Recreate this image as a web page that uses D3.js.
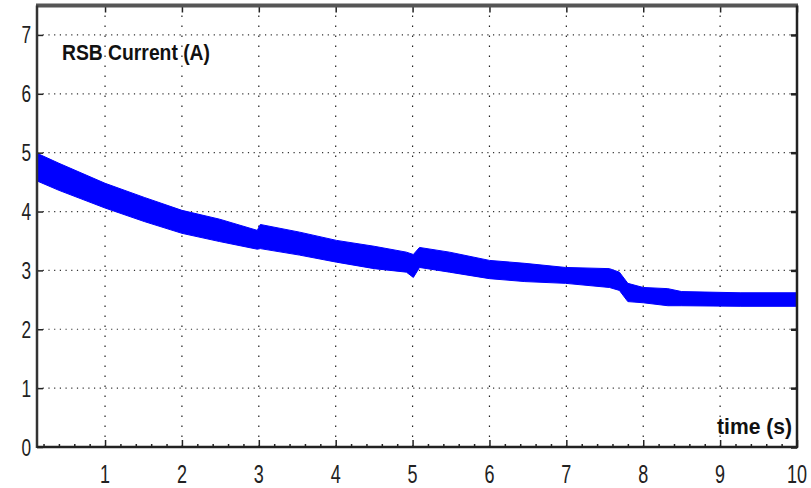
<!DOCTYPE html>
<html>
<head>
<meta charset="utf-8">
<script src="https://cdn.jsdelivr.net/npm/d3@7"></script>
<style>
  html, body { margin: 0; padding: 0; background: #fff; }
  svg { display: block; }
</style>
</head>
<body>
<svg id="chart" width="811" height="488"></svg>
<script>
// ---- data ----
const xTickValues = [1, 2, 3, 4, 5, 6, 7, 8, 9, 10];
const xTickLabels = ["1", "2", "3", "4", "5", "6", "7", "8", "9", "10"];
const yTickValues = [0, 1, 2, 3, 4, 5, 6, 7];
const yTickLabels = ["0", "1", "2", "3", "4", "5", "6", "7"];
const bandTime  = [0.115, 0.40, 1.00, 1.51, 2.00, 2.49, 2.98, 3.02, 3.53, 4.01, 4.50, 4.92, 5.01, 5.09, 5.48, 6.00, 6.46, 6.99, 7.56, 7.69, 7.80, 8.00, 8.32, 8.50, 9.26, 10.0];
const bandUpper = [4.99, 4.82, 4.48, 4.24, 4.02, 3.87, 3.68, 3.78, 3.65, 3.51, 3.41, 3.31, 3.27, 3.39, 3.31, 3.17, 3.12, 3.05, 3.03, 2.97, 2.78, 2.71, 2.69, 2.64, 2.62, 2.62];
const bandLower = [4.52, 4.36, 4.06, 3.83, 3.63, 3.49, 3.36, 3.37, 3.26, 3.14, 3.03, 2.97, 2.88, 3.05, 2.97, 2.86, 2.81, 2.78, 2.71, 2.66, 2.47, 2.45, 2.40, 2.40, 2.39, 2.39];
const yTitle = "RSB Current (A)";
const xTitle = "time (s)";

(function () {
// ---- layout ----
const mLeft = 37, mRight = 797, mTop = 5.5, mBottom = 447;
const svg = d3.select("#chart");
svg.append("rect").attr("width", 811).attr("height", 488).attr("fill", "#fff");

const x = d3.scaleLinear().domain([0.115, 10]).range([mLeft, mRight]);
const y = d3.scaleLinear().domain([0, 7.5]).range([mBottom, mTop]);

// grid
const grid = svg.append("g");
grid.selectAll("line.vg").data(xTickValues.filter(d => d < 10)).join("line")
  .attr("class", "vg")
  .attr("x1", d => x(d)).attr("x2", d => x(d))
  .attr("y1", mTop).attr("y2", mBottom)
  .attr("stroke", "#222").attr("stroke-width", 1.2)
  .attr("stroke-dasharray", "1.5,8.5");
grid.selectAll("line.hg").data(yTickValues.filter(d => d > 0)).join("line")
  .attr("class", "hg")
  .attr("x1", mLeft).attr("x2", mRight)
  .attr("y1", d => y(d)).attr("y2", d => y(d))
  .attr("stroke", "#333").attr("stroke-width", 1.2)
  .attr("stroke-dasharray", "1.2,4.5");

// band
const band = bandTime.map((t, i) => ({ t, hi: bandUpper[i], lo: bandLower[i] }));
svg.append("path").datum(band)
  .attr("fill", "#0000ff")
  .attr("stroke", "#0000ff").attr("stroke-width", 1)
  .attr("d", d3.area().x(d => x(d.t)).y0(d => y(d.lo)).y1(d => y(d.hi)));

// axes (ticks only, labels added separately)
const minorX = d3.range(0.2, 10.01, 0.2).filter(v => v > 0.115 && Math.abs(v - Math.round(v)) > 1e-6);
const gBottomMinor = svg.append("g").attr("transform", `translate(0,${mBottom})`)
  .call(d3.axisBottom(x).tickValues(minorX).tickSize(-3).tickFormat(""));
const gBottom = svg.append("g").attr("transform", `translate(0,${mBottom})`)
  .call(d3.axisBottom(x).tickValues(xTickValues).tickSize(-7).tickFormat(""));
const gTop = svg.append("g").attr("transform", `translate(0,${mTop})`)
  .call(d3.axisTop(x).tickValues(xTickValues).tickSize(-7).tickFormat(""));
const gLeft = svg.append("g").attr("transform", `translate(${mLeft},0)`)
  .call(d3.axisLeft(y).tickValues(yTickValues).tickSize(-6).tickFormat(""));
const gRight = svg.append("g").attr("transform", `translate(${mRight},0)`)
  .call(d3.axisRight(y).tickValues(yTickValues).tickSize(-6).tickFormat(""));
[gBottomMinor, gBottom, gTop, gLeft, gRight].forEach(g => {
  g.select(".domain").remove();
  g.selectAll(".tick line").attr("stroke", "#222").attr("stroke-width", 1.5);
});
gRight.selectAll(".tick line").attr("stroke-width", 2.5);

// frame
svg.append("line").attr("x1", mLeft - 1).attr("x2", mRight + 1).attr("y1", mTop).attr("y2", mTop)
  .attr("stroke", "#555").attr("stroke-width", 4);
svg.append("line").attr("x1", mLeft).attr("x2", mLeft).attr("y1", mTop).attr("y2", mBottom + 1)
  .attr("stroke", "#333").attr("stroke-width", 2.5);
svg.append("line").attr("x1", mLeft).attr("x2", mRight + 1).attr("y1", mBottom).attr("y2", mBottom)
  .attr("stroke", "#222").attr("stroke-width", 2.5);
svg.append("line").attr("x1", mRight).attr("x2", mRight).attr("y1", mTop).attr("y2", mBottom + 1)
  .attr("stroke", "#222").attr("stroke-width", 2.5);

// tick labels
const font = "'Liberation Sans', Arial, sans-serif";
svg.append("g").selectAll("text").data(xTickValues).join("text")
  .attr("transform", d => `translate(${x(d)},483) scale(0.72,1)`)
  .attr("text-anchor", "middle")
  .attr("font-family", font).attr("font-size", 25).attr("fill", "#222")
  .text((d, i) => xTickLabels[i]);
svg.append("g").selectAll("text").data(yTickValues).join("text")
  .attr("transform", d => `translate(31,${y(d) + 8.5}) scale(0.72,1)`)
  .attr("text-anchor", "end")
  .attr("font-family", font).attr("font-size", 24).attr("fill", "#222")
  .text((d, i) => yTickLabels[i]);

// titles inside plot
svg.append("text").attr("x", 62).attr("y", 60)
  .attr("font-family", font).attr("font-size", 22).attr("font-weight", "bold").attr("fill", "#111")
  .attr("textLength", 148).attr("lengthAdjust", "spacingAndGlyphs")
  .text(yTitle);
svg.append("text").attr("x", 717).attr("y", 434)
  .attr("font-family", font).attr("font-size", 22).attr("font-weight", "bold").attr("fill", "#111")
  .attr("textLength", 75).attr("lengthAdjust", "spacingAndGlyphs")
  .text(xTitle);
})();
</script>
</body>
</html>
